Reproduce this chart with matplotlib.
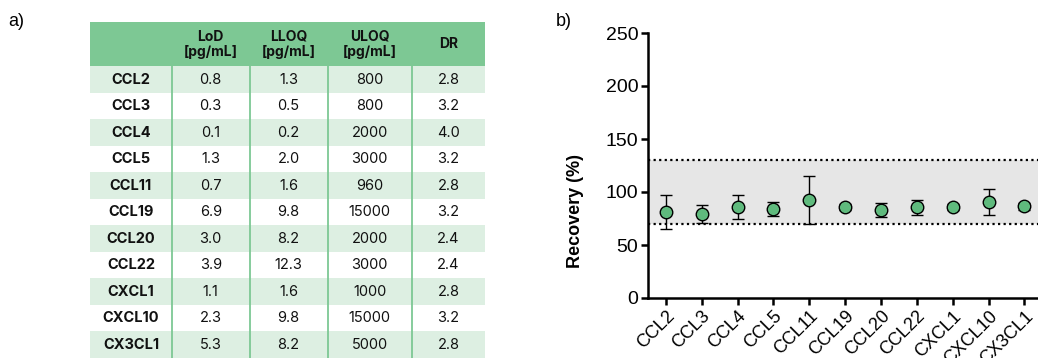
import matplotlib
matplotlib.use("Agg")
import matplotlib.pyplot as plt
from matplotlib.patches import Rectangle

# ---- data ----
analytes = ["CCL2", "CCL3", "CCL4", "CCL5", "CCL11", "CCL19", "CCL20", "CCL22", "CXCL1", "CXCL10", "CX3CL1"]
lod = [0.8, 0.3, 0.1, 1.3, 0.7, 6.9, 3.0, 3.9, 1.1, 2.3, 5.3]
lloq = [1.3, 0.5, 0.2, 2.0, 1.6, 9.8, 8.2, 12.3, 1.6, 9.8, 8.2]
uloq = [800, 800, 2000, 3000, 960, 15000, 2000, 3000, 1000, 15000, 5000]
dr = [2.8, 3.2, 4.0, 3.2, 2.8, 3.2, 2.4, 2.4, 2.8, 3.2, 2.8]
headers = ["", "LoD\n[pg/mL]", "LLOQ\n[pg/mL]", "ULOQ\n[pg/mL]", "DR"]

recovery = [81, 79, 86, 84, 92.5, 86, 83, 85.5, 86, 90.5, 86.5]
recovery_err = [16, 8.5, 11.5, 7, 22.5, 3, 6.5, 7, 3, 12, 3.5]
acc_low, acc_high = 70, 130
yticks = [0, 50, 100, 150, 200, 250]

W, H = 1038, 358
fig = plt.figure(figsize=(W / 100, H / 100), dpi=100)

# ---- table (pixel coordinates) ----
tax = fig.add_axes([0, 0, 1, 1])
tax.set_xlim(0, W)
tax.set_ylim(H, 0)
tax.axis("off")

green = "#7dc894"
light = "#ddefe2"
col_edges = [90, 172, 249.5, 327.5, 412, 485]
top, head_bot = 22, 66
row_h = 26.5
tfont = "Inter"

tax.add_patch(Rectangle((col_edges[0], top), col_edges[-1] - col_edges[0], head_bot - top,
                        facecolor=green, edgecolor="none"))
for i, hd in enumerate(headers):
    cx = (col_edges[i] + col_edges[i + 1]) / 2
    tax.text(cx, (top + head_bot) / 2 + 0.5, hd, ha="center", va="center", fontsize=10,
             fontweight="bold", family=tfont, linespacing=1.15, color="#111111")

for r, name in enumerate(analytes):
    y0 = head_bot + r * row_h
    if r % 2 == 0:
        tax.add_patch(Rectangle((col_edges[0], y0), col_edges[-1] - col_edges[0], row_h,
                                facecolor=light, edgecolor="none"))
    vals = [name, f"{lod[r]:.1f}", f"{lloq[r]:.1f}", f"{uloq[r]:d}", f"{dr[r]:.1f}"]
    for c, v in enumerate(vals):
        cx = (col_edges[c] + col_edges[c + 1]) / 2
        tax.text(cx, y0 + row_h / 2 + 0.5, v, ha="center", va="center", fontsize=10.5,
                 fontweight="bold" if c == 0 else "normal", family=tfont, color="#111111")

bottom = head_bot + len(analytes) * row_h
for x in col_edges[1:-1]:
    tax.plot([x, x], [head_bot, bottom], color=green, lw=1.3)

tax.text(8, 22, "a)", ha="left", va="center", fontsize=13, family="Liberation Sans")
tax.text(556, 22, "b)", ha="left", va="center", fontsize=13, family="Liberation Sans")

# ---- recovery chart ----
ax = fig.add_axes([648 / W, (H - 298) / H, 1 - 648 / W, 265 / H])
x = list(range(len(analytes)))
ax.set_xlim(-0.5, 10.38)
ax.set_ylim(0, 250)
ax.axhspan(acc_low, acc_high, color="#e6e6e6", zorder=0, lw=0)
ax.axhline(acc_low, color="black", ls=(0, (1, 1.5)), lw=1.6, zorder=1)
ax.axhline(acc_high, color="black", ls=(0, (1, 1.5)), lw=1.6, zorder=1)
ax.errorbar(x, recovery, yerr=recovery_err, fmt="o", ms=9, mfc="#5fba7d", mec="black",
            mew=1, ecolor="black", elinewidth=1, capsize=4, capthick=1, zorder=3)

for s in ["top", "right"]:
    ax.spines[s].set_visible(False)
for s in ["left", "bottom"]:
    ax.spines[s].set_linewidth(1.8)
ax.tick_params(width=1.8, length=5, labelsize=14, pad=2)
ax.set_yticks(yticks)
ax.set_xticks(x)
ax.set_xticklabels(analytes, rotation=45, ha="right", rotation_mode="anchor",
                   family="Liberation Sans", fontsize=13)
for lab in ax.get_yticklabels():
    lab.set_family("Liberation Sans")
ax.set_ylabel("Recovery (%)", fontsize=13, fontweight="bold", family="Liberation Sans")
ax.yaxis.set_label_coords(-0.165, 0.33)

fig.savefig("out.png", dpi=100)
